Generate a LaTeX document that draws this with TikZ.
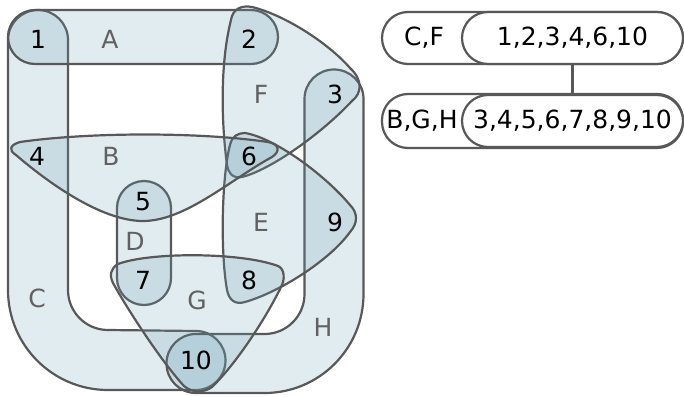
\documentclass[tikz,border=0pt]{standalone}
\usepackage{fontspec}
\setmainfont{DejaVu Sans}
\definecolor{hfill}{RGB}{106,159,181}
\definecolor{strk}{RGB}{88,88,88}
\tikzset{
  hedge/.style={draw=strk, line width=2.2pt, fill=hfill, fill opacity=0.2, line join=round},
  vlab/.style={font=\fontsize{25}{29}\selectfont, text=black, inner sep=0pt},
  elab/.style={font=\fontsize{25}{29}\selectfont, text=black!62, inner sep=0pt},
  boxline/.style={draw=strk, line width=2.2pt},
  setbox/.style={boxline, fill=white, rounded corners=26pt, minimum width=221pt, minimum height=52pt, inner sep=0pt, font=\fontsize{25}{29}\selectfont}
}
\begin{document}
\begin{tikzpicture}[x=1pt,y=1pt,yscale=-1]
\useasboundingbox (0,0) rectangle (684,396);
% C
\path[hedge] (8,40) arc[start angle=180, end angle=360, radius=30] -- (68,290)
  arc[start angle=180, end angle=90, radius=40] -- (196,331)
  arc[start angle=270, end angle=450, radius=29.5] -- (108,390)
  arc[start angle=90, end angle=180, radius=100] -- cycle;
% H
\path[hedge] (304.5,99) arc[start angle=180, end angle=360, radius=29.5] -- (363.5,294)
  arc[start angle=0, end angle=90, radius=99] -- (196,393)
  arc[start angle=90, end angle=270, radius=29.5] -- (264.5,334)
  arc[start angle=90, end angle=0, radius=40] -- cycle;
% A
\path[hedge, rounded corners=27pt] (8,10) rectangle (278,64);
% D
\path[hedge, rounded corners=27pt] (117,181) rectangle (171,305);
% F
\path[hedge] (256,8) .. controls (290,18) and (330,45) .. (350,68)
  .. controls (363,80) and (362,93) .. (352,101)
  .. controls (320,135) and (270,170) .. (242,177)
  .. controls (232,179) and (228,172) .. (227,165)
  .. controls (221,120) and (220,60) .. (232,16)
  .. controls (236,6) and (246,5) .. (256,8) -- cycle;
% E
\path[hedge] (245,133) .. controls (275,138) and (325,175) .. (350,205)
  .. controls (358,213) and (358,223) .. (350,232)
  .. controls (330,260) and (280,292) .. (245,302)
  .. controls (235,305) and (229,300) .. (227,290)
  .. controls (220,250) and (222,175) .. (230,145)
  .. controls (232,136) and (238,133) .. (245,133) -- cycle;
% B
\path[hedge] (20,142) .. controls (90,132) and (200,132) .. (268,142)
  .. controls (280,144) and (280,152) .. (272,157)
  .. controls (230,180) and (185,221) .. (143,221)
  .. controls (100,221) and (45,180) .. (16,155)
  .. controls (8,150) and (10,145) .. (20,142) -- cycle;
% G
\path[hedge] (118,264) .. controls (150,252) and (240,252) .. (278,266)
  .. controls (285,269) and (285,280) .. (281,287)
  .. controls (265,320) and (235,365) .. (212,387)
  .. controls (204,393) and (192,393) .. (184,386)
  .. controls (160,360) and (125,305) .. (113,283)
  .. controls (109,275) and (111,268) .. (118,264) -- cycle;
% vertex labels
\node[vlab] (v1) at (38,39) {1};
\node[vlab] (v2) at (249,39) {2};
\node[vlab] (v3) at (335,94) {3};
\node[vlab] (v4) at (37,156) {4};
\node[vlab] (v6) at (249,156) {6};
\node[vlab] (v5) at (143,202) {5};
\node[vlab] (v9) at (335,222) {9};
\node[vlab] (v7) at (143,280) {7};
\node[vlab] (v8) at (249,280) {8};
\node[vlab] (v10) at (196,360) {10};
% edge labels
\node[elab] (lA) at (110,39) {A};
\node[elab] (lB) at (111,156) {B};
\node[elab] (lF) at (261,94) {F};
\node[elab] (lE) at (261,222) {E};
\node[elab] (lD) at (135,241) {D};
\node[elab] (lC) at (37,298) {C};
\node[elab] (lG) at (197,300) {G};
\node[elab] (lH) at (323,327) {H};
% right tree
\draw[boxline, fill=white, rounded corners=26pt] (382,12) rectangle (683,64);
\draw[boxline, fill=white, rounded corners=26pt] (382,94) rectangle (683,148);
\node[setbox] (s1) at (572.5,38) {1,2,3,4,6,10};
\node[setbox] (s2) at (572.5,121) {3,4,5,6,7,8,9,10};
\node[vlab] (t1) at (424,38) {C,F};
\node[vlab] (t2) at (422,121) {B,G,H};
\draw[boxline] (s1) -- (s2);
\end{tikzpicture}
\end{document}
